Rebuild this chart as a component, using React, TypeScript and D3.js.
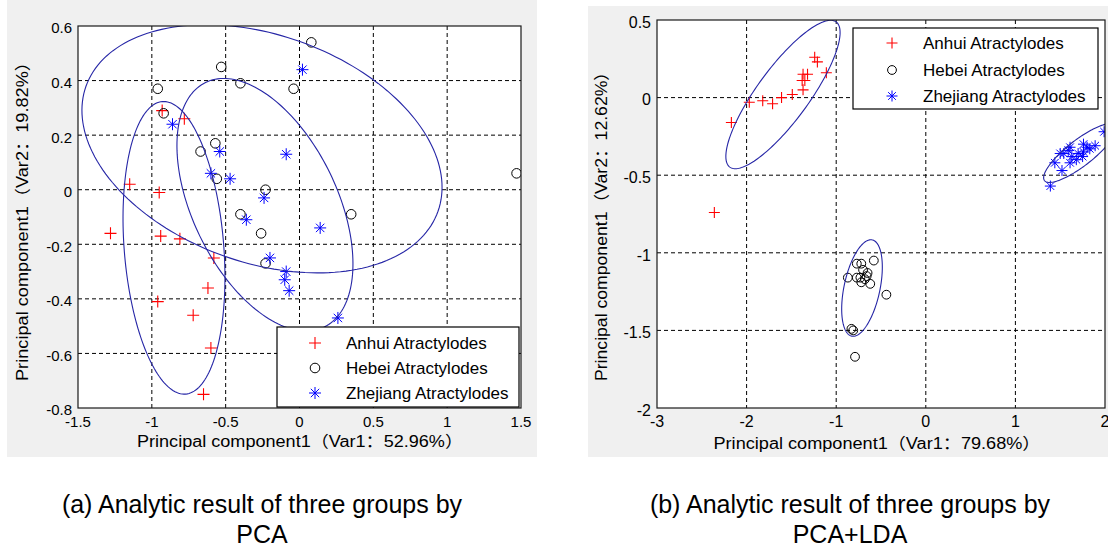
import React from "react";
import * as d3 from "d3";

type Pt = [number, number];

// ---- (a) PCA scores ----
const pcaAnhui: Pt[] = [
  [-0.93, 0.29], [-0.78, 0.26], [-1.15, 0.02], [-0.95, -0.01], [-1.28, -0.16],
  [-0.94, -0.17], [-0.81, -0.18], [-0.58, -0.25], [-0.62, -0.36], [-0.96, -0.41],
  [-0.72, -0.46], [-0.6, -0.58], [-0.65, -0.75],
];
const pcaHebei: Pt[] = [
  [-0.53, 0.45], [-0.96, 0.37], [-0.4, 0.39], [-0.04, 0.37], [-0.92, 0.28],
  [-0.57, 0.17], [-0.67, 0.14], [-0.56, 0.04], [-0.23, 0.0], [-0.4, -0.09],
  [0.08, 0.54], [1.47, 0.06], [0.35, -0.09], [-0.26, -0.16], [-0.23, -0.27],
];
const pcaZhejiang: Pt[] = [
  [-0.86, 0.24], [-0.54, 0.14], [-0.09, 0.13], [-0.6, 0.06], [-0.47, 0.04],
  [-0.24, -0.03], [0.02, 0.44], [-0.36, -0.11], [-0.2, -0.25], [-0.09, -0.3],
  [-0.1, -0.33], [-0.07, -0.37], [0.14, -0.14], [0.26, -0.47],
];

// ---- (b) PCA+LDA scores ----
const ldaAnhui: Pt[] = [
  [-1.24, 0.26], [-1.21, 0.23], [-1.11, 0.16], [-1.37, 0.15], [-1.32, 0.15],
  [-1.38, 0.11], [-1.35, 0.11], [-1.37, 0.05], [-1.49, 0.02], [-1.61, 0.0],
  [-1.71, -0.04], [-1.82, -0.02], [-1.97, -0.03], [-2.17, -0.16], [-2.36, -0.74],
];
const ldaHebei: Pt[] = [
  [-0.58, -1.05], [-0.72, -1.07], [-0.44, -1.27], [-0.79, -1.67], [-0.83, -1.49],
  [-0.81, -1.5], [-0.7, -1.11], [-0.65, -1.13], [-0.73, -1.16], [-0.68, -1.17],
  [-0.77, -1.16], [-0.66, -1.15], [-0.72, -1.19], [-0.87, -1.16], [-0.77, -1.07],
  [-0.62, -1.2],
];
const ldaZhejiang: Pt[] = [
  [1.99, -0.22], [1.89, -0.31], [1.76, -0.3], [1.61, -0.32], [1.54, -0.36],
  [1.44, -0.42], [1.39, -0.57], [1.52, -0.47], [1.63, -0.38], [1.7, -0.36],
  [1.76, -0.35], [1.83, -0.33], [1.59, -0.34], [1.5, -0.36], [1.68, -0.4],
  [1.75, -0.38], [1.61, -0.42], [1.8, -0.32],
];

// confidence ellipses: centre and two half-axis vectors, in data units
type Ell = { c: Pt; u: Pt; v: Pt };
const pcaEllipses: Ell[] = [
  { c: [-0.254, 0.15], u: [1.192, -0.229], v: [-0.257, -0.393] },
  { c: [-0.85, -0.213], u: [0.079, -0.536], v: [-0.336, -0.015] },
  { c: [-0.234, -0.055], u: [0.402, -0.448], v: [-0.44, -0.116] },
];
const ldaEllipses: Ell[] = [
  { c: [-1.594, 0.02], u: [0.593, 0.468], v: [0.234, -0.099] },
  { c: [-0.712, -1.227], u: [0.114, 0.31], v: [0.196, -0.024] },
  { c: [1.721, -0.357], u: [0.396, 0.178], v: [0.089, -0.066] },
];

const groupNames = ["Anhui Atractylodes", "Hebei Atractylodes", "Zhejiang Atractylodes"];
const pcaXTicks = [-1.5, -1, -0.5, 0, 0.5, 1, 1.5];
const pcaYTicks = [-0.8, -0.6, -0.4, -0.2, 0, 0.2, 0.4, 0.6];
const ldaXTicks = [-3, -2, -1, 0, 1, 2];
const ldaYTicks = [-2, -1.5, -1, -0.5, 0, 0.5];

const FONT = "Arial, 'Liberation Sans', 'Noto Sans CJK SC', sans-serif";
const kinds = ["plus", "circle", "star"];

const Marker = ({ kind, x, y, s }: { kind: string; x: number; y: number; s: number }) => {
  if (kind === "circle")
    return <circle cx={x} cy={y} r={s * 0.8} fill="none" stroke="#000" strokeWidth={1} />;
  if (kind === "plus")
    return (
      <path d={`M${x - s},${y}H${x + s}M${x},${y - s}V${y + s}`} stroke="#ff0000" strokeWidth={1.1} />
    );
  const d = s * 0.7;
  return (
    <path
      d={`M${x - s},${y}H${x + s}M${x},${y - s}V${y + s}M${x - d},${y - d}L${x + d},${y + d}M${x - d},${y + d}L${x + d},${y - d}`}
      stroke="#0000ff"
      strokeWidth={1}
    />
  );
};

type PanelProps = {
  id: string;
  xDomain: Pt; xRange: Pt; yDomain: Pt; yRange: Pt;
  xTicks: number[]; yTicks: number[];
  groups: Pt[][]; ellipses: Ell[];
  markSize: number; tickSize: number;
  legend: { x0: number; y0: number; x1: number; y1: number; mx: number; tx: number; rows: number[]; fs: number };
  xLabel: string; yLabel: string; xLabelPos: Pt; yLabelPos: Pt; labelSize: number;
  xLabelLen: number; yLabelLen: number;
};

const Panel = (p: PanelProps) => {
  const x = d3.scaleLinear().domain(p.xDomain).range(p.xRange);
  const y = d3.scaleLinear().domain(p.yDomain).range(p.yRange);
  const [left, right] = p.xRange;
  const [bottom, top] = p.yRange;

  // ellipse outline traced through the scales
  const ellPath = (e: Ell) => {
    const ts = d3.range(0, 2 * Math.PI + 0.001, Math.PI / 90);
    return (
      d3.line<number>()
        .x((t) => x(e.c[0] + e.u[0] * Math.cos(t) + e.v[0] * Math.sin(t)))
        .y((t) => y(e.c[1] + e.u[1] * Math.cos(t) + e.v[1] * Math.sin(t)))(ts) || ""
    );
  };

  return (
    <g fontFamily={FONT}>
      <defs>
        <clipPath id={p.id}>
          <rect x={left} y={top} width={right - left} height={bottom - top} />
        </clipPath>
      </defs>
      <rect x={left} y={top} width={right - left} height={bottom - top} fill="#fff" />
      {/* dashed grid */}
      {p.xTicks.slice(1, -1).map((v) => (
        <line key={"gx" + v} x1={x(v)} x2={x(v)} y1={top} y2={bottom} stroke="#000" strokeDasharray="4,3" />
      ))}
      {p.yTicks.slice(1, -1).map((v) => (
        <line key={"gy" + v} x1={left} x2={right} y1={y(v)} y2={y(v)} stroke="#000" strokeDasharray="4,3" />
      ))}
      <g clipPath={`url(#${p.id})`}>
        {p.groups.map((g, gi) =>
          g.map((d, i) => <Marker key={gi + "-" + i} kind={kinds[gi]} x={x(d[0])} y={y(d[1])} s={p.markSize} />)
        )}
        {p.ellipses.map((e, i) => (
          <path key={"e" + i} d={ellPath(e)} fill="none" stroke="#2626a6" strokeWidth={1.1} />
        ))}
      </g>
      <rect x={left} y={top} width={right - left} height={bottom - top} fill="none" stroke="#1a1a1a" strokeWidth={1.2} />
      {/* tick labels */}
      {p.xTicks.map((v) => (
        <text key={"tx" + v} x={x(v)} y={bottom + 19} fontSize={p.tickSize} textAnchor="middle">{String(v)}</text>
      ))}
      {p.yTicks.map((v) => (
        <text key={"ty" + v} x={left - 6} y={y(v) + p.tickSize * 0.36 + 2} fontSize={p.tickSize} textAnchor="end">{String(v)}</text>
      ))}
      {/* legend */}
      <rect x={p.legend.x0} y={p.legend.y0} width={p.legend.x1 - p.legend.x0} height={p.legend.y1 - p.legend.y0} fill="#fff" stroke="#000" strokeWidth={1.2} />
      {groupNames.map((n, i) => (
        <g key={n}>
          <Marker kind={kinds[i]} x={p.legend.mx} y={p.legend.rows[i]} s={p.markSize} />
          <text x={p.legend.tx} y={p.legend.rows[i] + p.legend.fs * 0.36} fontSize={p.legend.fs}>{n}</text>
        </g>
      ))}
      {/* axis titles */}
      <text x={p.xLabelPos[0]} y={p.xLabelPos[1]} fontSize={p.labelSize} textAnchor="middle"
        textLength={p.xLabelLen} lengthAdjust="spacingAndGlyphs">{p.xLabel}</text>
      <text transform={`translate(${p.yLabelPos[0]},${p.yLabelPos[1]}) rotate(-90)`} fontSize={p.labelSize}
        textAnchor="middle" textLength={p.yLabelLen} lengthAdjust="spacingAndGlyphs">{p.yLabel}</text>
    </g>
  );
};

export default function App() {
  return (
    <svg width={1108} height={549} style={{ position: "absolute", left: 0, top: 0, background: "#fff" }}>
      <rect x={7} y={0} width={530} height={457} fill="#f0f0f0" />
      <rect x={588} y={6} width={520} height={451} fill="#f0f0f0" />
      <Panel
        id="clipA"
        xDomain={[-1.5, 1.5]} xRange={[78, 521]} yDomain={[-0.8, 0.6]} yRange={[408, 26]}
        xTicks={pcaXTicks} yTicks={pcaYTicks}
        groups={[pcaAnhui, pcaHebei, pcaZhejiang]} ellipses={pcaEllipses}
        markSize={6} tickSize={15}
        legend={{ x0: 277, y0: 327, x1: 519, y1: 407, mx: 315, tx: 346, rows: [343, 368, 393], fs: 17 }}
        xLabel="Principal component1（Var1：52.96%）" yLabel="Principal component1（Var2：19.82%）"
        xLabelPos={[300, 447]} yLabelPos={[28, 217]} labelSize={16} xLabelLen={326} yLabelLen={328}
      />
      <Panel
        id="clipB"
        xDomain={[-3, 2]} xRange={[657, 1105]} yDomain={[-2, 0.5]} yRange={[408, 20]}
        xTicks={ldaXTicks} yTicks={ldaYTicks}
        groups={[ldaAnhui, ldaHebei, ldaZhejiang]} ellipses={ldaEllipses}
        markSize={5.5} tickSize={16}
        legend={{ x0: 853, y0: 28, x1: 1098, y1: 109, mx: 892, tx: 923, rows: [43, 70, 96], fs: 17 }}
        xLabel="Principal component1（Var1：79.68%）" yLabel="Principal component1（Var2：12.62%）"
        xLabelPos={[877, 449]} yLabelPos={[607, 222]} labelSize={16} xLabelLen={327} yLabelLen={318}
      />
      <g fontFamily={FONT} fontSize={25} textAnchor="middle">
        <text x={262} y={513}>(a) Analytic result of three groups by</text>
        <text x={262} y={543}>PCA</text>
        <text x={850} y={513}>(b) Analytic result of three groups by</text>
        <text x={850} y={543}>PCA+LDA</text>
      </g>
    </svg>
  );
}
